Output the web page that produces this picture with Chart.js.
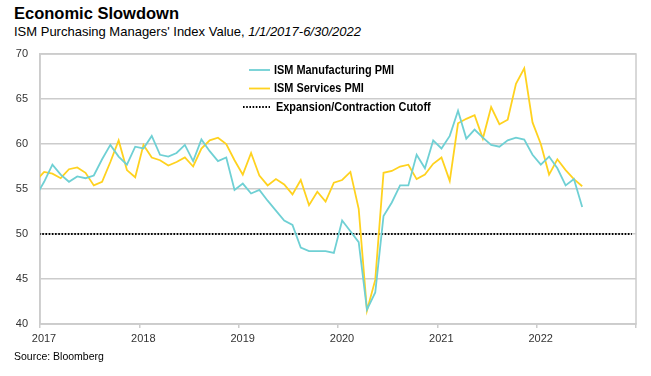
<!DOCTYPE html>
<html>
<head>
<meta charset="utf-8">
<script src="https://cdn.jsdelivr.net/npm/chart.js@4.4.1/dist/chart.umd.min.js"></script>
<style>
  body { margin: 0; background: #fff; }
  #wrap { position: relative; width: 651px; height: 376px; font-family: 'Liberation Sans', Arial, sans-serif; color: #000; }
  #title { position: absolute; left: 14px; top: 4px; font-size: 16.5px; font-weight: bold; }
  #subtitle { position: absolute; left: 14px; top: 24px; font-size: 13px; }
  #source { position: absolute; left: 14px; top: 350px; font-size: 10.5px; }
  canvas { position: absolute; left: 0; top: 0; }
</style>
</head>
<body>
<div id="wrap">
  <div id="title">Economic Slowdown</div>
  <div id="subtitle">ISM Purchasing Managers' Index Value, <i>1/1/2017-6/30/2022</i></div>
  <canvas id="pmiChart" width="651" height="376"></canvas>
  <div id="source">Source: Bloomberg</div>
</div>
<script>
// monthly readings, Dec 2016 (cut off at the axis) through Jun 2022
const firstMonth = { year: 2016, month: 12 };

const manufacturing = [
  54.2,
  55.8, 57.7, 56.6, 55.8, 56.4, 56.2, 56.5, 58.3, 59.9, 58.6, 57.7, 59.7,
  59.5, 60.9, 58.8, 58.6, 59.0, 59.9, 58.1, 60.5, 59.2, 58.1, 58.5, 54.9,
  55.6, 54.5, 54.9, 53.7, 52.6, 51.5, 51.0, 48.5, 48.1, 48.1, 48.1, 47.9,
  51.5, 50.3, 49.1, 41.6, 43.5, 52.0, 53.5, 55.4, 55.4, 58.8, 57.3, 60.4,
  59.5, 60.9, 63.7, 60.6, 61.6, 60.7, 59.9, 59.7, 60.4, 60.7, 60.5, 58.8,
  57.7, 58.6, 57.3, 55.4, 56.1, 53.0
];

const services = [
  55.9,
  56.9, 56.7, 56.2, 57.2, 57.4, 56.8, 55.4, 55.8, 58.0, 60.4, 57.1, 56.3,
  59.9, 58.5, 58.2, 57.6, 58.0, 58.5, 57.5, 59.5, 60.4, 60.7, 60.0, 58.2,
  56.6, 59.0, 56.5, 55.4, 56.1, 55.5, 54.4, 56.0, 53.2, 54.7, 53.6, 55.7,
  56.0, 56.9, 52.8, 41.5, 44.9, 56.8, 57.0, 57.5, 57.7, 56.1, 56.6, 57.8,
  58.5, 55.9, 62.3, 62.8, 63.2, 60.6, 64.1, 62.2, 62.7, 66.7, 68.4, 62.4,
  60.0, 56.6, 58.3, 57.1, 56.1, 55.3
];

const cutoffValue = 50;
const cutoffMonths = [{ year: 2016, month: 12 }, { year: 2022, month: 12 }];

const seriesNames = ['ISM Manufacturing PMI', 'ISM Services PMI', 'Expansion/Contraction Cutoff'];
const yearTicks = [2017, 2018, 2019, 2020, 2021, 2022];

// x position = months since Jan 2017, plotted mid-month
function monthPos(year, month) {
  return (year - 2017) * 12 + (month - 1) + 0.5;
}

function toPoints(values) {
  return values.map((v, i) => {
    const m = firstMonth.month - 1 + i;
    return { x: monthPos(firstMonth.year + Math.floor(m / 12), (m % 12) + 1), y: v };
  });
}

const gridColor = '#cccccc';
const tickFont = { family: "'Liberation Sans', Arial, sans-serif", size: 11 };

// box round the plot area
const plotFrame = {
  id: 'plotFrame',
  beforeDatasetsDraw(chart) {
    const { ctx, chartArea: a } = chart;
    ctx.save();
    ctx.strokeStyle = gridColor;
    ctx.lineWidth = 1.5;
    ctx.strokeRect(a.left, a.top, a.right - a.left, a.bottom - a.top);
    ctx.restore();
  }
};

// legend stacked inside the plot, text squeezed to look like a narrow face
const insideLegend = {
  id: 'insideLegend',
  afterDraw(chart) {
    const { ctx, chartArea: a } = chart;
    const x0 = a.left + 209;
    const y0 = a.top + 16;
    ctx.save();
    ctx.font = "bold 13px 'Liberation Sans', Arial, sans-serif";
    ctx.textBaseline = 'middle';
    chart.data.datasets.forEach((ds, i) => {
      const y = y0 + i * 18.5;
      ctx.strokeStyle = ds.borderColor;
      ctx.lineWidth = ds.borderWidth;
      ctx.setLineDash(ds.borderDash || []);
      ctx.beginPath();
      ctx.moveTo(ds.borderDash ? x0 - 6 : x0, y);
      ctx.lineTo(x0 + 21, y);
      ctx.stroke();
      ctx.setLineDash([]);
      ctx.fillStyle = '#000';
      const tx = x0 + 25 + (ds.borderDash ? 2 : 0);
      ctx.save();
      ctx.translate(tx, y);
      ctx.scale(0.84, 1);
      ctx.fillText(ds.label, 0, 0);
      ctx.restore();
    });
    ctx.restore();
  }
};

const ctx = document.getElementById('pmiChart').getContext('2d');
new Chart(ctx, {
  type: 'line',
  data: {
    datasets: [
      {
        label: seriesNames[0],
        data: toPoints(manufacturing),
        borderColor: '#6fd0d4',
        borderWidth: 1.8,
        pointRadius: 0,
        tension: 0
      },
      {
        label: seriesNames[1],
        data: toPoints(services),
        borderColor: '#ffd21f',
        borderWidth: 1.8,
        pointRadius: 0,
        tension: 0
      },
      {
        label: seriesNames[2],
        data: cutoffMonths.map(m => ({ x: monthPos(m.year, m.month), y: cutoffValue })),
        borderColor: '#000000',
        borderWidth: 2,
        borderDash: [1.6, 1.6],
        pointRadius: 0
      }
    ]
  },
  options: {
    responsive: false,
    animation: false,
    layout: { padding: { left: 0, right: 15, top: 54, bottom: 28 } },
    plugins: {
      legend: { display: false },
      tooltip: { enabled: false }
    },
    scales: {
      x: {
        type: 'linear',
        min: 0,
        max: 72,
        afterFit(scale) { scale.height = 24; },
        afterBuildTicks(scale) {
          scale.ticks = yearTicks.concat([2023]).map(y => ({ value: (y - 2017) * 12 }));
        },
        grid: { drawOnChartArea: false, color: gridColor, lineWidth: 1.5, tickLength: 4 },
        border: { color: gridColor, width: 1.5 },
        ticks: {
          padding: 4,
          labelOffset: 4,
          maxRotation: 0,
          autoSkip: false,
          color: '#333',
          font: tickFont,
          callback: v => (v < 72 ? String(2017 + v / 12) : '')
        }
      },
      y: {
        min: 40,
        max: 70,
        afterFit(scale) { scale.width = 40; },
        grid: { color: gridColor, lineWidth: 1.5, drawTicks: false },
        border: { color: gridColor, width: 1.5 },
        ticks: {
          stepSize: 5,
          padding: 12,
          color: '#333',
          font: tickFont
        }
      }
    }
  },
  plugins: [plotFrame, insideLegend]
});
</script>
</body>
</html>
